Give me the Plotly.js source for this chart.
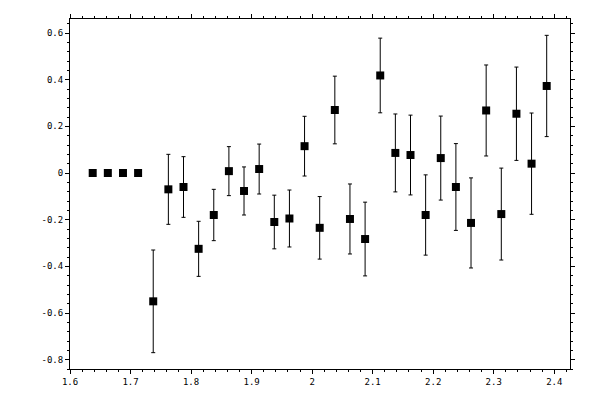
<!DOCTYPE html>
<html>
<head>
<meta charset="utf-8">
<script src="https://cdn.plot.ly/plotly-3.0.1.min.js"></script>
<style>
  html, body { margin: 0; padding: 0; background: #fff; }
  #canvas { width: 600px; height: 400px; }
</style>
</head>
<body>
<div id="canvas"></div>
<script>
// measured points (x, value, symmetric error)
const xs = [1.6375, 1.6625, 1.6875, 1.7125, 1.7375, 1.7625, 1.7875, 1.8125, 1.8375, 1.8625,
            1.8875, 1.9125, 1.9375, 1.9625, 1.9875, 2.0125, 2.0375, 2.0625, 2.0875, 2.1125,
            2.1375, 2.1625, 2.1875, 2.2125, 2.2375, 2.2625, 2.2875, 2.3125, 2.3375, 2.3625,
            2.3875];
const ys = [0, 0, 0, 0, -0.55, -0.07, -0.06, -0.325, -0.18, 0.008,
            -0.077, 0.017, -0.21, -0.195, 0.115, -0.235, 0.27, -0.197, -0.283, 0.418,
            0.086, 0.077, -0.18, 0.064, -0.06, -0.214, 0.268, -0.176, 0.254, 0.04,
            0.373];
const errs = [0, 0, 0, 0, 0.22, 0.15, 0.13, 0.118, 0.11, 0.105,
              0.103, 0.107, 0.115, 0.122, 0.128, 0.134, 0.145, 0.15, 0.158, 0.16,
              0.167, 0.171, 0.172, 0.18, 0.186, 0.193, 0.195, 0.197, 0.2, 0.217,
              0.217];

// tick labels
const xTickVals = [1.6, 1.7, 1.8, 1.9, 2, 2.1, 2.2, 2.3, 2.4];
const xTickText = ["1.6", "1.7", "1.8", "1.9", "2", "2.1", "2.2", "2.3", "2.4"];
const yTickVals = [-0.8, -0.6, -0.4, -0.2, 0, 0.2, 0.4, 0.6];
const yTickText = ["-0.8", "-0.6", "-0.4", "-0.2", "0", "0.2", "0.4", "0.6"];

const X_RANGE = [1.6, 2.426];
const Y_RANGE = [-0.84, 0.66];
const tickFont = { family: "DejaVu Sans Mono", size: 9, color: "#000" };

var getPlotData = () => [{
    x: xs,
    y: ys,
    type: "scatter",
    mode: "markers",
    marker: { symbol: "square", size: 8, color: "#000" },
    error_y: { type: "data", array: errs, visible: true, color: "#000", thickness: 1, width: 2 },
    hoverinfo: "none",
}];

// overlay axes only add the inner half of the major ticks (they cross the frame)
var innerTicks = (range, vals, side) => ({
    range: range,
    overlaying: side == "bottom" ? "x" : "y",
    side: side,
    showgrid: false,
    zeroline: false,
    showline: false,
    showticklabels: false,
    mirror: "allticks",
    ticks: "inside",
    ticklen: 2,
    tickcolor: "#000",
    tickmode: "array",
    tickvals: vals,
});

var getPlotLayout = () => ({
    width: 600,
    height: 400,
    margin: { l: 70, r: 30, t: 19, b: 31 },
    paper_bgcolor: "#fff",
    plot_bgcolor: "#fff",
    showlegend: false,
    xaxis: {
        range: X_RANGE,
        showgrid: false,
        zeroline: false,
        showline: true,
        linecolor: "#000",
        linewidth: 1,
        mirror: "allticks",
        ticks: "outside",
        ticklen: 4,
        tickcolor: "#000",
        tickmode: "array",
        tickvals: xTickVals,
        ticktext: xTickText,
        tickfont: tickFont,
        minor: { tickmode: "linear", tick0: 1.6, dtick: 0.02, ticks: "outside", ticklen: 2, tickcolor: "#000", showgrid: false },
    },
    yaxis: {
        range: Y_RANGE,
        showgrid: false,
        zeroline: false,
        showline: true,
        linecolor: "#000",
        linewidth: 1,
        mirror: "allticks",
        ticks: "outside",
        ticklen: 4,
        tickcolor: "#000",
        tickmode: "array",
        tickvals: yTickVals,
        ticktext: yTickText,
        tickfont: tickFont,
        minor: { tickmode: "linear", tick0: 0, dtick: 0.04, ticks: "outside", ticklen: 2, tickcolor: "#000", showgrid: false },
    },
    xaxis2: innerTicks(X_RANGE, xTickVals, "bottom"),
    yaxis2: innerTicks(Y_RANGE, yTickVals, "left"),
});

Plotly.newPlot("canvas", getPlotData(), getPlotLayout(), { staticPlot: true });
</script>
</body>
</html>
